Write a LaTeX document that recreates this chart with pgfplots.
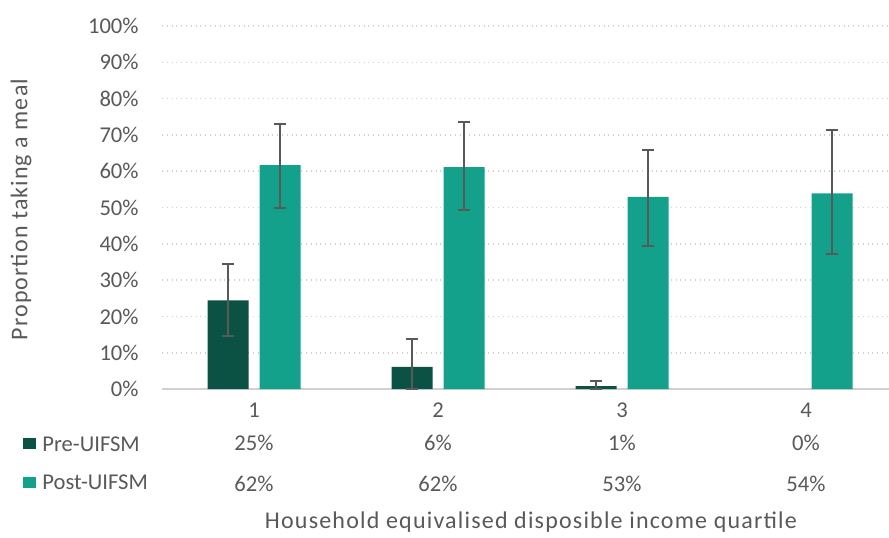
\documentclass[border=0pt]{standalone}
\usepackage{pgfplots}
\pgfplotsset{compat=1.18}
\usepackage{fontspec}
\setmainfont{Carlito}
\definecolor{pre}{HTML}{0B5244}
\definecolor{post}{HTML}{13A18B}
\definecolor{txt}{HTML}{595959}
\definecolor{gridc}{HTML}{D0D0D0}
\definecolor{errc}{HTML}{595959}
\begin{document}
\fontsize{11.3}{13.5}\selectfont
\begin{tikzpicture}
\useasboundingbox (-81pt,-74pt) rectangle (363.5pt,194.5pt);
\begin{axis}[
  at={(0,0)}, anchor=south west,
  scale only axis,
  width=363.5pt, height=181.5pt,
  xmin=0.5, xmax=4.451,
  ymin=0, ymax=100,
  axis line style={draw=none},
  xtick={1,2,3,4},
  xticklabels={1,2,3,4},
  ytick={0,10,...,100},
  yticklabel={\pgfmathprintnumber{\tick}\%},
  /pgf/number format/assume math mode=true,
  major tick length=0pt,
  tick style={draw=none},
  xmajorgrids=false,
  ymajorgrids=true,
  grid style={draw=gridc, dotted, line width=0.8pt},
  yticklabel style={anchor=east, inner sep=0pt, xshift=-11.5pt, text=txt, font=\fontsize{11.3}{13.5}\selectfont},
  xticklabel style={anchor=center, inner sep=0pt, yshift=-10.5pt, text=txt, font=\fontsize{11.3}{13.5}\selectfont},
  ybar, bar width=20.5pt, bar shift=0pt,
  clip=false,
  error bars/error bar style={errc, line width=1pt},
  error bars/error mark options={rotate=90, mark size=3pt, line width=1pt, errc},
]
% zero axis line
\draw[draw=gridc, line width=1pt] (axis cs:0.5,0) -- (axis cs:4.451,0);
\addplot[fill=pre, draw=none, bar shift=-13pt,
  error bars/.cd, y dir=both, y explicit]
 coordinates {
  (1,24.4) += (0,10.1) -= (0,9.7)
  (2,6.1) += (0,7.6) -= (0,6.1)
  (3,0.8) += (0,1.4) -= (0,0.8)
 };
\addplot[fill=post, draw=none, bar shift=13pt,
  error bars/.cd, y dir=both, y explicit]
 coordinates {
  (1,61.7) += (0,11.3) -= (0,11.8)
  (2,61.1) += (0,12.4) -= (0,11.7)
  (3,52.9) += (0,12.9) -= (0,13.4)
  (4,53.9) += (0,17.4) -= (0,16.7)
 };
% data table
\node[text=txt, inner sep=0pt, yshift=-27pt] at (axis cs:1,0) {25\%};
\node[text=txt, inner sep=0pt, yshift=-27pt] at (axis cs:2,0) {6\%};
\node[text=txt, inner sep=0pt, yshift=-27pt] at (axis cs:3,0) {1\%};
\node[text=txt, inner sep=0pt, yshift=-27pt] at (axis cs:4,0) {0\%};
\node[text=txt, inner sep=0pt, yshift=-47.5pt] at (axis cs:1,0) {62\%};
\node[text=txt, inner sep=0pt, yshift=-47.5pt] at (axis cs:2,0) {62\%};
\node[text=txt, inner sep=0pt, yshift=-47.5pt] at (axis cs:3,0) {53\%};
\node[text=txt, inner sep=0pt, yshift=-47.5pt] at (axis cs:4,0) {54\%};
\end{axis}
% legend keys of the data table
\fill[pre] (-69.5pt,-30.2pt) rectangle (-63pt,-24.7pt);
\fill[post] (-69.5pt,-49.5pt) rectangle (-63pt,-44pt);
\node[anchor=west, inner sep=0pt, text=txt] at (-60pt,-27.5pt) {Pre-UIFSM};
\node[anchor=west, inner sep=0pt, text=txt] at (-60pt,-46.8pt) {Post-UIFSM};
% axis titles
\node[text=txt, inner sep=0pt, font=\fontsize{12}{14}\selectfont\addfontfeature{LetterSpace=5}] at (184.5pt,-66.5pt) {Household equivalised disposible income quartile};
\node[text=txt, inner sep=0pt, rotate=90, font=\fontsize{12}{14}\selectfont\addfontfeature{LetterSpace=4.5}] at (-70.5pt,89.75pt) {Proportion taking a meal};
\end{tikzpicture}
\end{document}
